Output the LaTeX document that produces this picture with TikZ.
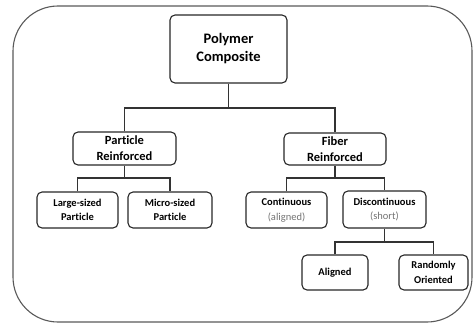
\documentclass[tikz,border=0pt]{standalone}
\usepackage{fontspec}
\setmainfont{Carlito}[Ligatures={NoCommon}]
\begin{document}
\begin{tikzpicture}[x=1pt,y=-1pt,
  box/.style={draw=black!85,line width=1.1pt,rounded corners=5pt,align=center,inner sep=0pt,font=\bfseries},
  rootfont/.style={font=\bfseries\fontsize{14.5}{18}\selectfont},
  midfont/.style={font=\bfseries\fontsize{12.5}{16}\selectfont},
  leaffont/.style={font=\bfseries\fontsize{10.5}{14.5}\selectfont},
  subfont/.style={font=\fontsize{10.5}{14.5}\selectfont},
  link/.style={draw=black!80,line width=1.1pt}]
\useasboundingbox (0,0) rectangle (473,324);
\draw[black!65,line width=1.1pt,rounded corners=45pt] (13,6) rectangle (472,322);
% nodes
\node[box,rootfont,minimum width=117pt,minimum height=68pt] (root) at (228.5,49) {Polymer\\Composite};
\node[box,midfont,minimum width=103pt,minimum height=33pt] (pr) at (124.5,148.5) {Particle\\Reinforced};
\node[box,midfont,minimum width=102pt,minimum height=32pt] (fr) at (335,149) {Fiber\\Reinforced};
\node[box,leaffont,minimum width=81pt,minimum height=36pt] (ls) at (77.5,210) {Large-sized\\Particle};
\node[box,leaffont,minimum width=84pt,minimum height=36pt] (ms) at (170,210) {Micro-sized\\Particle};
\node[box,subfont,minimum width=81pt,minimum height=36pt] (co) at (286.5,210) {\textbf{Continuous}\\\textcolor{black!55}{(aligned)}};
\node[box,subfont,minimum width=83pt,minimum height=37pt] (di) at (384.5,209.5) {\textbf{Discontinuous}\\\textcolor{black!55}{(short)}};
\node[box,leaffont,minimum width=66pt,minimum height=35pt] (al) at (335,272.5) {Aligned};
\node[box,leaffont,minimum width=69pt,minimum height=35pt] (ro) at (433.5,272.5) {Randomly\\Oriented};
% connectors
\coordinate (j0) at (228.5,108);
\draw[link] (root.south) -- (j0);
\draw[link] (pr.north) |- (j0) -| (fr.north);
\coordinate (j1) at (124.5,178);
\draw[link] (pr.south) -- (j1);
\draw[link] (ls.north) |- (j1) -| (ms.north);
\coordinate (j2) at (335,178);
\draw[link] (fr.south) -- (j2);
\draw[link] (co.north) |- (j2) -| (di.north);
\coordinate (j3) at (384.5,242);
\draw[link] (di.south) -- (j3);
\draw[link] (al.north) |- (j3) -| (ro.north);
\end{tikzpicture}
\end{document}
